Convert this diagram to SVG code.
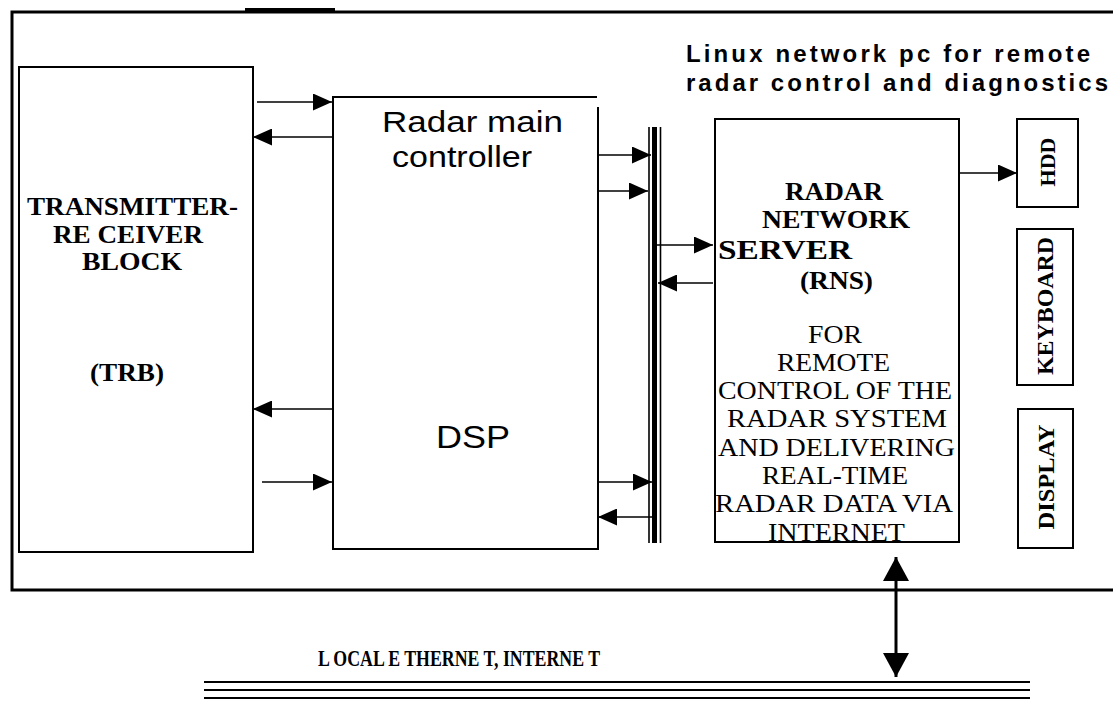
<svg xmlns="http://www.w3.org/2000/svg" width="1113" height="703" viewBox="0 0 1113 703">
<style>
.box{fill:none;stroke:#000;stroke-width:2}
.ln{fill:none;stroke:#000;stroke-width:1.6}
.serifb{font-family:"Liberation Serif","Times New Roman",serif;font-weight:bold;fill:#000}
.serif{font-family:"Liberation Serif","Times New Roman",serif;fill:#000}
.sans{font-family:"Liberation Sans",Arial,sans-serif;fill:#000}
</style>
<defs>
<marker id="ah" markerUnits="userSpaceOnUse" markerWidth="19" markerHeight="17" refX="19" refY="8.5" orient="auto">
<path d="M0,0 L19,8.5 L0,17 z" fill="#000"/>
</marker>
<marker id="ahb" markerUnits="userSpaceOnUse" markerWidth="24" markerHeight="26" refX="24" refY="13" orient="auto-start-reverse">
<path d="M0,0 L24,13 L0,26 z" fill="#000"/>
</marker>
<clipPath id="rnsclip"><rect x="715" y="119" width="244" height="422"/></clipPath>
</defs>

<g id="frame">
<path d="M1113,12 H12 V590 H1113" fill="none" stroke="#000" stroke-width="3"/>
<rect x="245" y="8" width="90" height="5" fill="#000"/>
</g>

<g id="heading">
<text class="sans" font-weight="bold" font-size="24" x="686" y="62" textLength="404" lengthAdjust="spacing">Linux network pc for remote</text>
<text class="sans" font-weight="bold" font-size="24" x="686" y="91" textLength="422" lengthAdjust="spacing">radar control and diagnostics</text>
</g>

<g id="trb">
<rect class="box" x="19" y="67" width="234" height="485"/>
<text class="serifb" font-size="25" x="27" y="215" textLength="211" lengthAdjust="spacingAndGlyphs">TRANSMITTER-</text>
<text class="serifb" font-size="25" x="53" y="243" textLength="150" lengthAdjust="spacingAndGlyphs">RE CEIVER</text>
<text class="serifb" font-size="25" x="82" y="270" textLength="100" lengthAdjust="spacingAndGlyphs">BLOCK</text>
<text class="serifb" font-size="25" x="90" y="381" textLength="74" lengthAdjust="spacingAndGlyphs">(TRB)</text>
</g>

<g id="controller">
<path class="box" d="M597,97 H333 V549 H598 V107"/>
<text class="sans" font-size="29" x="382" y="132" textLength="181" lengthAdjust="spacingAndGlyphs">Radar main</text>
<text class="sans" font-size="29" x="392" y="167" textLength="140" lengthAdjust="spacingAndGlyphs">controller</text>
<text class="sans" font-size="32" x="436" y="448" textLength="74" lengthAdjust="spacingAndGlyphs">DSP</text>
</g>

<g id="bus">
<line x1="649" y1="127" x2="649" y2="543" stroke="#000" stroke-width="1.6"/>
<rect x="652" y="127" width="5" height="416" fill="#000"/>
<line x1="660.5" y1="127" x2="660.5" y2="543" stroke="#000" stroke-width="1.6"/>
</g>

<g id="rns">
<rect class="box" x="715" y="119" width="244" height="423"/>
<text class="serifb" font-size="25" x="785" y="200" textLength="98" lengthAdjust="spacingAndGlyphs">RADAR</text>
<text class="serifb" font-size="25" x="762" y="228" textLength="148" lengthAdjust="spacingAndGlyphs">NETWORK</text>
<text class="serifb" font-size="28" x="718" y="259" textLength="134" lengthAdjust="spacingAndGlyphs">SERVER</text>
<text class="serifb" font-size="25" x="800" y="289" textLength="73" lengthAdjust="spacingAndGlyphs">(RNS)</text>
<g clip-path="url(#rnsclip)">
<text class="serif" font-size="26" x="808" y="343" textLength="54" lengthAdjust="spacingAndGlyphs">FOR</text>
<text class="serif" font-size="26" x="777" y="371" textLength="113" lengthAdjust="spacingAndGlyphs">REMOTE</text>
<text class="serif" font-size="26" x="718" y="399" textLength="234" lengthAdjust="spacingAndGlyphs">CONTROL OF THE</text>
<text class="serif" font-size="26" x="727" y="427" textLength="220" lengthAdjust="spacingAndGlyphs">RADAR SYSTEM</text>
<text class="serif" font-size="26" x="718" y="456" textLength="237" lengthAdjust="spacingAndGlyphs">AND DELIVERING</text>
<text class="serif" font-size="26" x="762" y="484" textLength="146" lengthAdjust="spacingAndGlyphs">REAL-TIME</text>
<text class="serif" font-size="26" x="715" y="512" textLength="238" lengthAdjust="spacingAndGlyphs">RADAR DATA VIA</text>
<text class="serif" font-size="26" x="768" y="541" textLength="137" lengthAdjust="spacingAndGlyphs">INTERNET</text>
</g>
</g>

<g id="hdd">
<rect class="box" x="1017" y="119" width="61" height="88"/>
<text class="serifb" font-size="22" text-anchor="middle" transform="translate(1055,162) rotate(-90)" x="0" y="0">HDD</text>
</g>

<g id="keyboard">
<rect class="box" x="1017" y="229" width="56" height="156"/>
<text class="serifb" font-size="23" text-anchor="middle" transform="translate(1053,306) rotate(-90)" x="0" y="0" textLength="138" lengthAdjust="spacingAndGlyphs">KEYBOARD</text>
</g>

<g id="display">
<rect class="box" x="1018" y="409" width="55" height="139"/>
<text class="serifb" font-size="23" text-anchor="middle" transform="translate(1054,477) rotate(-90)" x="0" y="0" textLength="105" lengthAdjust="spacingAndGlyphs">DISPLAY</text>
</g>

<g id="network">
<text class="serifb" font-size="24" x="318" y="666" textLength="282" lengthAdjust="spacingAndGlyphs">L OCAL E THERNE T, INTERNE T</text>
<line x1="204" y1="682" x2="1030" y2="682" stroke="#000" stroke-width="2"/>
<line x1="204" y1="690" x2="1030" y2="690" stroke="#000" stroke-width="2"/>
<line x1="204" y1="698" x2="1030" y2="698" stroke="#000" stroke-width="2"/>
</g>

<g id="connectors">
<path class="ln" d="M257,102 H332" marker-end="url(#ah)"/>
<path class="ln" d="M332,137 H253" marker-end="url(#ah)"/>
<path class="ln" d="M332,409 H253" marker-end="url(#ah)"/>
<path class="ln" d="M262,482 H332" marker-end="url(#ah)"/>
<path class="ln" d="M598,155 H651" marker-end="url(#ah)"/>
<path class="ln" d="M598,191 H648" marker-end="url(#ah)"/>
<path class="ln" d="M598,482 H652" marker-end="url(#ah)"/>
<path class="ln" d="M653,517 H598" marker-end="url(#ah)"/>
<path class="ln" d="M657,245 H713" marker-end="url(#ah)"/>
<path class="ln" d="M713,283 H658" marker-end="url(#ah)"/>
<path class="ln" d="M959,173 H1017" marker-end="url(#ah)"/>
<path d="M896,557 V677" fill="none" stroke="#000" stroke-width="3" marker-start="url(#ahb)" marker-end="url(#ahb)"/>
</g>
</svg>
